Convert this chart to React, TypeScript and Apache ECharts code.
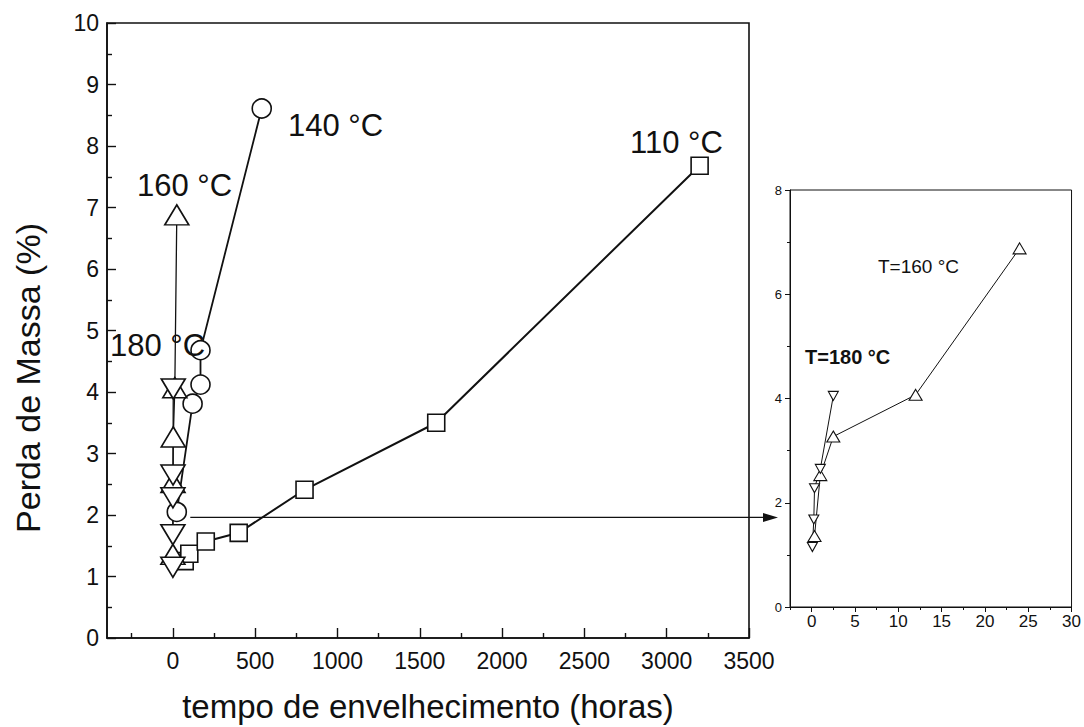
import React, { useEffect, useRef } from "react";
import * as echarts from "echarts";

const FONT = '"Liberation Sans", Arial, Helvetica, sans-serif';

// Mass loss (%) against ageing time (hours) for each ageing temperature
const hours110 = [72, 100, 200, 400, 800, 1600, 3200];
const loss110 = [1.25, 1.37, 1.57, 1.71, 2.41, 3.5, 7.68];

const hours140 = [24, 120, 168, 168, 540];
const loss140 = [2.05, 3.81, 4.12, 4.68, 8.61];

const hours160 = [0.33, 1, 2.5, 12, 24];
const loss160 = [1.36, 2.53, 3.27, 4.07, 6.88];

const hours180 = [0.083, 0.25, 0.33, 1, 2.5];
const loss180 = [1.15, 1.68, 2.28, 2.65, 4.05];

// Axis ticks
const mainXTicks = [0, 500, 1000, 1500, 2000, 2500, 3000, 3500];
const mainXMinor = [-250, 250, 750, 1250, 1750, 2250, 2750, 3250];
const insetXTicks = [0, 5, 10, 15, 20, 25, 30];
const insetXMinor = [-2.5, 2.5, 7.5, 12.5, 17.5, 22.5, 27.5];

// Where the zoom arrow starts (main chart data coordinates)
const arrowFromHours = 106;
const arrowLevel = 1.96;

const zip = (xs: number[], ys: number[]) => xs.map((x, i) => [x, ys[i]]);

const BLACK = "#111";
const plain = (v: number) => String(v);

export default function App() {
  const ref = useRef<HTMLDivElement>(null);

  useEffect(() => {
    if (!ref.current) return;
    const chart = echarts.init(ref.current, undefined, { renderer: "svg" });

    const marker = (symbol: string, size: any, rotate = 0, bw = 1.6) => ({
      symbol,
      symbolSize: size,
      symbolRotate: rotate,
      itemStyle: { color: "#fff", borderColor: BLACK, borderWidth: bw },
    });

    const option: any = {
      animation: false,
      backgroundColor: "#fff",
      grid: [
        {
          left: 107,
          top: 23,
          width: 642,
          height: 615,
          show: true,
          borderColor: BLACK,
          borderWidth: 1.6,
          backgroundColor: "transparent",
        },
        {
          left: 790,
          top: 190,
          width: 283,
          height: 417,
          show: true,
          borderColor: BLACK,
          borderWidth: 1,
          backgroundColor: "transparent",
        },
      ],
      xAxis: [
        {
          type: "value",
          gridIndex: 0,
          position: "bottom",
          min: -400,
          max: 3500,
          axisLine: { onZero: false, lineStyle: { color: BLACK, width: 1.6 } },
          axisTick: {
            inside: true,
            length: 10,
            customValues: mainXTicks,
            lineStyle: { color: BLACK, width: 1.4 },
          },
          axisLabel: {
            customValues: mainXTicks,
            formatter: plain,
            color: BLACK,
            fontSize: 23,
            fontFamily: FONT,
            margin: 11,
          },
          splitLine: { show: false },
        },
        {
          type: "value",
          gridIndex: 0,
          position: "bottom",
          min: -400,
          max: 3500,
          axisLine: { show: false },
          axisTick: {
            inside: true,
            length: 5,
            customValues: mainXMinor,
            lineStyle: { color: BLACK, width: 1.4 },
          },
          axisLabel: { show: false },
          splitLine: { show: false },
        },
        {
          type: "value",
          gridIndex: 1,
          position: "bottom",
          min: -2.5,
          max: 30,
          axisLine: { onZero: false, lineStyle: { color: BLACK, width: 1 } },
          axisTick: {
            inside: false,
            length: 5,
            customValues: insetXTicks,
            lineStyle: { color: BLACK, width: 1 },
          },
          axisLabel: {
            customValues: insetXTicks,
            formatter: plain,
            color: BLACK,
            fontSize: 17,
            fontFamily: FONT,
            margin: 6,
          },
          splitLine: { show: false },
        },
        {
          type: "value",
          gridIndex: 1,
          position: "bottom",
          min: -2.5,
          max: 30,
          axisLine: { show: false },
          axisTick: {
            inside: false,
            length: 3,
            customValues: insetXMinor,
            lineStyle: { color: BLACK, width: 1 },
          },
          axisLabel: { show: false },
          splitLine: { show: false },
        },
      ],
      yAxis: [
        {
          type: "value",
          gridIndex: 0,
          min: 0,
          max: 10,
          interval: 1,
          axisLine: { onZero: false, lineStyle: { color: BLACK, width: 1.6 } },
          axisTick: { inside: true, length: 9, lineStyle: { color: BLACK, width: 1.4 } },
          minorTick: { show: true, splitNumber: 2, length: 5, lineStyle: { color: BLACK, width: 1.4 } },
          axisLabel: { color: BLACK, fontSize: 23, fontFamily: FONT, margin: 8, formatter: plain },
          splitLine: { show: false },
          minorSplitLine: { show: false },
        },
        {
          type: "value",
          gridIndex: 1,
          min: 0,
          max: 8,
          interval: 2,
          axisLine: { onZero: false, lineStyle: { color: BLACK, width: 1 } },
          axisTick: { inside: false, length: 5, lineStyle: { color: BLACK, width: 1 } },
          minorTick: { show: true, splitNumber: 2, length: 3, lineStyle: { color: BLACK, width: 1 } },
          axisLabel: { color: BLACK, fontSize: 13, fontFamily: FONT, margin: 8, formatter: plain },
          splitLine: { show: false },
          minorSplitLine: { show: false },
        },
      ],
      series: [
        {
          name: "110 °C",
          type: "line",
          xAxisIndex: 0,
          yAxisIndex: 0,
          data: zip(hours110, loss110),
          lineStyle: { color: BLACK, width: 2 },
          ...marker("rect", 17),
        },
        {
          name: "140 °C",
          type: "line",
          xAxisIndex: 0,
          yAxisIndex: 0,
          data: zip(hours140, loss140),
          lineStyle: { color: BLACK, width: 1.8 },
          ...marker("circle", 19),
        },
        {
          name: "160 °C",
          type: "line",
          xAxisIndex: 0,
          yAxisIndex: 0,
          data: zip(hours160, loss160),
          lineStyle: { color: BLACK, width: 1.3 },
          ...marker("triangle", [24, 20]),
        },
        {
          name: "180 °C",
          type: "line",
          xAxisIndex: 0,
          yAxisIndex: 0,
          data: zip(hours180, loss180),
          lineStyle: { color: BLACK, width: 1.3 },
          ...marker("triangle", [24, 20], 180),
        },
        {
          name: "T=160 °C",
          type: "line",
          xAxisIndex: 2,
          yAxisIndex: 1,
          data: zip(hours160, loss160),
          lineStyle: { color: BLACK, width: 1 },
          ...marker("triangle", [13, 11], 0, 1.1),
        },
        {
          name: "T=180 °C",
          type: "line",
          xAxisIndex: 2,
          yAxisIndex: 1,
          data: zip(hours180, loss180),
          lineStyle: { color: BLACK, width: 1 },
          ...marker("triangle", [10, 9], 180, 1.1),
        },
      ],
    };

    chart.setOption(option);

    // Annotations: temperature labels, axis titles and the zoom arrow
    const start = chart.convertToPixel({ xAxisIndex: 0, yAxisIndex: 0 }, [arrowFromHours, arrowLevel]) as number[];
    const insetLeft = chart.convertToPixel({ xAxisIndex: 2, yAxisIndex: 1 }, [-2.5, 0]) as number[];
    const tipX = insetLeft[0] - 12;
    const ay = start[1];

    const label = (text: string, x: number, y: number, size: number, weight = "normal") => ({
      type: "text",
      x,
      y,
      z: 20,
      style: {
        text,
        fill: BLACK,
        font: `${weight} ${size}px ${FONT}`,
        textAlign: "left",
        textVerticalAlign: "middle",
      },
    });

    chart.setOption({
      graphic: [
        label("160 °C", 137, 185, 31),
        label("180 °C", 110, 345, 31),
        label("140 °C", 288, 125, 31),
        label("110 °C", 630, 142, 31),
        label("T=160 °C", 878, 266, 19),
        label("T=180 °C", 805, 357, 20, "bold"),
        {
          type: "text",
          x: 28,
          y: 378,
          rotation: Math.PI / 2,
          z: 20,
          style: {
            text: "Perda de Massa (%)",
            fill: BLACK,
            font: `normal 34px ${FONT}`,
            textAlign: "center",
            textVerticalAlign: "middle",
          },
        },
        {
          type: "text",
          x: 428,
          y: 706,
          z: 20,
          style: {
            text: "tempo de envelhecimento (horas)",
            fill: BLACK,
            font: `normal 33px ${FONT}`,
            textAlign: "center",
            textVerticalAlign: "middle",
          },
        },
        {
          type: "line",
          z: 15,
          shape: { x1: start[0], y1: ay, x2: tipX - 6, y2: ay },
          style: { stroke: BLACK, lineWidth: 1.3 },
        },
        {
          type: "polygon",
          z: 15,
          shape: {
            points: [
              [tipX, ay],
              [tipX - 15, ay - 4.5],
              [tipX - 15, ay + 4.5],
            ],
          },
          style: { fill: BLACK },
        },
      ],
    });

    return () => chart.dispose();
  }, []);

  return (
    <div
      ref={ref}
      style={{ position: "fixed", left: 0, top: 0, width: 1084, height: 727, background: "#fff" }}
    />
  );
}
